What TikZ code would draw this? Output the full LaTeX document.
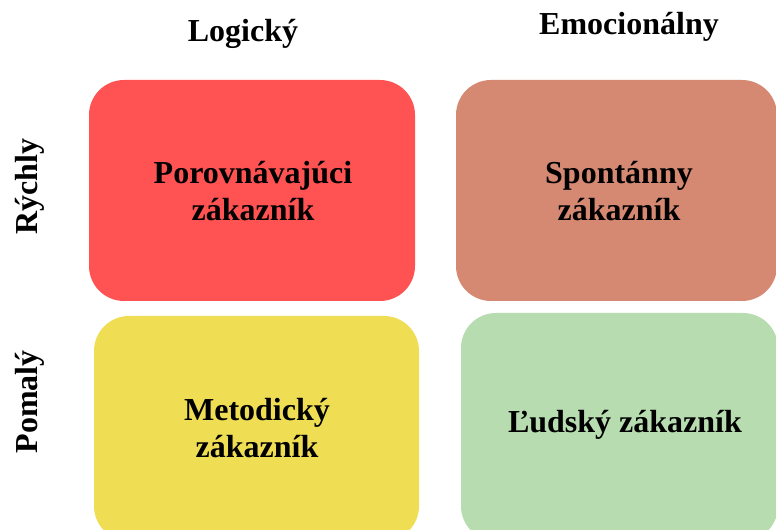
\documentclass[tikz,border=0pt]{standalone}
\usepackage{fontspec}
\setmainfont{Liberation Serif}
\definecolor{cRed}{RGB}{255,82,82}
\definecolor{cSalmon}{RGB}{214,137,114}
\definecolor{cYellow}{RGB}{239,221,84}
\definecolor{cGreen}{RGB}{182,220,176}
\tikzset{
  quad/.style={rounded corners=26.25pt},
  lbl/.style={font=\bfseries\fontsize{24}{27.5}\selectfont, text=black, inner sep=0pt, align=center},
}
\begin{document}
\begin{tikzpicture}[x=0.75pt,y=-0.75pt]
\useasboundingbox (0,0) rectangle (776,530);
\fill[white] (0,0) rectangle (776,530);
\clip (0,0) rectangle (776,530);
\fill[cRed,quad] (89,80) rectangle (415,301);
\fill[cSalmon,quad] (456,80) rectangle (777,301);
\fill[cYellow,quad] (94,316) rectangle (419,541);
\fill[cGreen,quad] (461,313) rectangle (778,541);
\node[lbl, anchor=base] (logic) at (243,42) {Logický};
\node[lbl, anchor=base] (emo) at (629,35) {Emocionálny};
\node[lbl, anchor=base, rotate=90] (fast) at (37,187) {Rýchly};
\node[lbl, anchor=base, rotate=90] (slow) at (37,402) {Pomalý};
\node[lbl] (q1) at (253,191) {Porovnávajúci\\zákazník};
\node[lbl] (q2) at (619,191) {Spontánny\\zákazník};
\node[lbl] (q3) at (257,428) {Metodický\\zákazník};
\node[lbl] (q4) at (625,425) {Ľudský zákazník};
\end{tikzpicture}
\end{document}
